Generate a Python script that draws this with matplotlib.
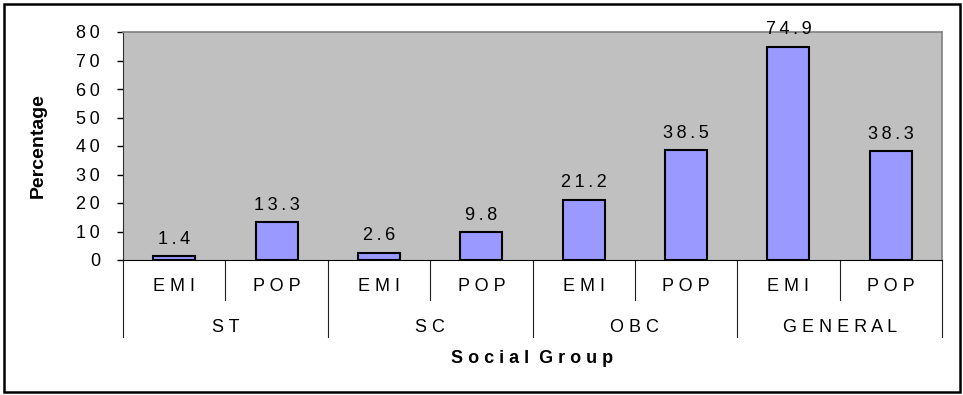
import matplotlib
matplotlib.use("Agg")
import matplotlib.pyplot as plt
from matplotlib.patches import Rectangle

# social groups and the two measures shown for each
groups = ["ST", "SC", "OBC", "GENERAL"]
measures = ["EMI", "POP"]
emi_values = [1.4, 2.6, 21.2, 74.9]
pop_values = [13.3, 9.8, 38.5, 38.3]
yticks = [0, 10, 20, 30, 40, 50, 60, 70, 80]

plt.rcParams["font.family"] = ["Liberation Sans", "DejaVu Sans"]

WIDE = " "         # letter gap for capitals
NUM = "\u2009"     # letter gap for numbers


def spaced(s, gap):
    # wide letter spacing, like the old spreadsheet charts
    return gap.join(s)


values = []
labels = []
for e, p in zip(emi_values, pop_values):
    values += [e, p]
    labels += measures
xpos = list(range(len(values)))

fig = plt.figure(figsize=(9.63, 3.95), dpi=100)
ax = fig.add_axes([123 / 963, 1 - 260 / 395, 819 / 963, 228 / 395])
ax.set_facecolor("#C0C0C0")

ax.bar(xpos, values, width=0.41, color="#9999FF", edgecolor="black", linewidth=1.5, zorder=3)
for x, v in zip(xpos, values):
    ax.annotate(spaced(f"{v:.1f}", NUM), (x, v), xytext=(0, 6), textcoords="offset points",
                ha="center", va="bottom", fontsize=13)

ax.set_xlim(-0.5, len(values) - 0.5)
ax.set_ylim(0, 80)
ax.set_yticks(yticks)
ax.set_yticklabels([spaced(str(t), NUM) for t in yticks], fontsize=13)
ax.tick_params(axis="y", direction="out", length=4.5, width=1, pad=12)
ax.set_xticks([])

for side in ["top", "right"]:
    ax.spines[side].set_color("#808080")
    ax.spines[side].set_linewidth(1.2)
ax.spines["left"].set_color("#303030")
ax.spines["bottom"].set_color("black")

ax.set_ylabel("Percentage", fontsize=14, fontweight="bold")
ax.yaxis.set_label_coords(-0.093, 0.5)

# two-level category axis under the plot
trans = ax.get_xaxis_transform()
for i, x in enumerate(xpos):
    ax.text(x, -0.118, spaced(labels[i], WIDE), transform=trans, ha="center", va="center", fontsize=13)
for k in range(len(groups)):
    ax.plot([2 * k + 0.5] * 2, [0, -0.175], transform=trans, color="#202020", lw=0.8, clip_on=False)
    ax.text(2 * k + 0.5, -0.294, spaced(groups[k], WIDE), transform=trans, ha="center", va="center",
            fontsize=13)
for k in range(len(groups) + 1):
    ax.plot([2 * k - 0.5] * 2, [0, -0.338], transform=trans, color="#202020", lw=0.8, clip_on=False)

ax.text(0.5, -0.434, "S o c i a l  G r o u p", transform=ax.transAxes, ha="center", va="center",
        fontsize=13, fontweight="bold")

# border round the whole chart
fig.patches.append(Rectangle((3.5 / 963, 3.5 / 395), 956 / 963, 388 / 395, transform=fig.transFigure,
                             fill=False, edgecolor="black", linewidth=1.8))

fig.savefig("out.png", dpi=100)
